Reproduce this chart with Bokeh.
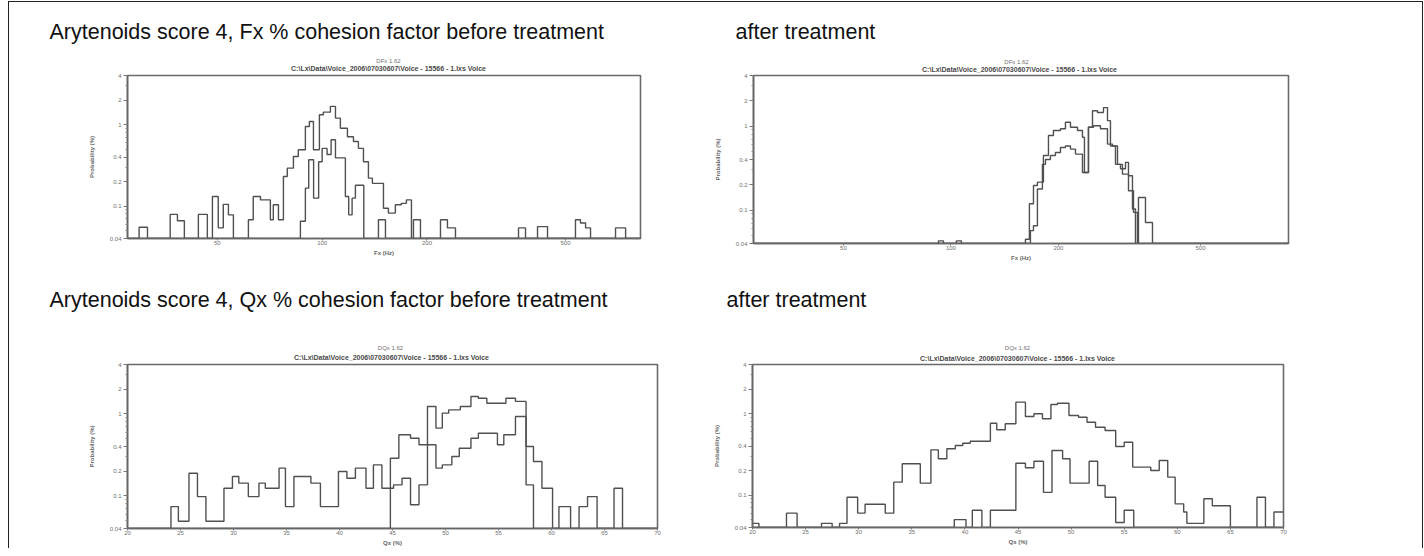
from bokeh.plotting import figure
from bokeh.layouts import column, row
from bokeh.models import Range1d, FixedTicker, CustomJSTickFormatter
from bokeh.embed import file_html
from bokeh.resources import INLINE
from bokeh.core.properties import value

# ---------------- data ----------------
# Panel 1: Fx before treatment (Hz, log axis) - probability %
fx_before_a_edges = [27.6, 29.8, 31.5, 36.6, 38.4, 40.2, 44.1, 46.8, 48.4, 50.3, 52.0, 53.8, 55.6, 61.4,
                     63.4, 66.5, 71.0, 72.4, 74.9, 77.4, 79.4, 82.7, 85.4, 89.5, 91.9, 94.4, 98.2, 100.8,
                     105.6, 109.2, 112.8, 118.2, 123.0, 127.1, 131.4, 135.8, 139.4, 150.0, 155.0, 162.3,
                     168.9, 174.6, 180.5, 182.9, 191.6, 218.7, 229.0, 241.5, 366.4, 383.8, 415.5, 443.9,
                     534, 552, 571, 590, 696, 744, 821]
fx_before_a_pct = [0.04, 0.055, 0.04, 0.079, 0.066, 0.04, 0.079, 0.04, 0.131, 0.054, 0.105, 0.078, 0.04,
                   0.068, 0.131, 0.119, 0.068, 0.104, 0.068, 0.231, 0.292, 0.406, 0.49, 0.947, 1.09, 0.49,
                   1.32, 1.42, 1.67, 1.20, 0.90, 0.71, 0.62, 0.51, 0.35, 0.22, 0.19, 0.094, 0.082, 0.104,
                   0.108, 0.119, 0.04, 0.068, 0.04, 0.068, 0.054, 0.04, 0.054, 0.04, 0.056, 0.04, 0.068,
                   0.062, 0.054, 0.04, 0.054, 0.04]
fx_before_b_edges = [27.6, 86.6, 89.5, 91.5, 94.5, 97.7, 100.0, 103.3, 106.1, 109.2, 116.6, 119.2, 121.9,
                     124.6, 131.7, 145.1, 152.0, 821]
fx_before_b_pct = [0.04, 0.065, 0.166, 0.37, 0.125, 0.35, 0.51, 0.43, 0.65, 0.39, 0.131, 0.078, 0.125,
                   0.18, 0.04, 0.068, 0.04]

# Panel 2: Fx after treatment
fx_after_a_edges = [28.0, 92.3, 95.3, 103.6, 107.0, 161.7, 165.9, 170.3, 174.7, 181.6, 187.6, 193.7, 202.7,
                    209.3, 216.2, 226.2, 233.6, 236.6, 242.8, 249.2, 257.3, 267.5, 274.5, 279.8, 289.0,
                    298.5, 308.3, 314.3, 322.5, 328.8, 335.2, 350.7, 366.9, 882]
fx_after_a_pct = [0.04, 0.043, 0.04, 0.043, 0.04, 0.045, 0.119, 0.196, 0.215, 0.446, 0.772, 0.886, 0.93,
                  1.11, 0.97, 0.886, 0.737, 0.28, 0.97, 1.52, 1.45, 1.66, 1.16, 0.58, 0.35, 0.31, 0.37,
                  0.256, 0.103, 0.04, 0.141, 0.071, 0.04]
fx_after_b_edges = [28.0, 167.0, 170.3, 174.7, 180.4, 184.0, 190.0, 196.2, 202.7, 209.3, 216.2, 223.3,
                    233.6, 242.8, 250.8, 262.3, 274.5, 283.5, 292.8, 302.3, 314.3, 324.6, 333.0, 882]
fx_after_b_pct = [0.04, 0.057, 0.065, 0.178, 0.35, 0.40, 0.446, 0.485, 0.556, 0.58, 0.532, 0.464, 0.28,
                  0.97, 1.01, 0.93, 0.61, 0.58, 0.35, 0.268, 0.17, 0.094, 0.04]

# Panel 3: Qx before treatment (%)
qx_before_a_edges = [20.0, 24.1, 24.8, 25.8, 26.6, 27.4, 29.1, 29.9, 30.5, 31.4, 32.4, 33.0, 34.3, 34.9,
                     35.7, 37.3, 38.2, 39.9, 40.7, 41.5, 42.5, 43.2, 44.0, 45.1, 45.9, 46.7, 47.5, 48.3,
                     49.1, 49.7, 50.3, 51.4, 52.4, 53.1, 53.9, 55.7, 56.6, 57.6, 58.3, 70.0]
qx_before_a_pct = [0.04, 0.074, 0.049, 0.189, 0.098, 0.049, 0.124, 0.172, 0.143, 0.098, 0.143, 0.124,
                   0.218, 0.074, 0.172, 0.143, 0.074, 0.198, 0.164, 0.218, 0.124, 0.239, 0.124, 0.136,
                   0.164, 0.078, 0.136, 1.23, 0.67, 1.02, 1.12, 1.23, 1.63, 1.55, 1.35, 1.55, 1.42,
                   0.136, 0.04]
qx_before_b_edges = [20.0, 44.8, 45.6, 46.7, 47.5, 49.1, 49.7, 50.6, 51.3, 52.4, 53.1, 54.9, 55.5, 56.6,
                     57.6, 58.3, 59.1, 60.1, 60.7, 61.8, 62.6, 63.4, 64.3, 65.9, 66.7, 70.0]
qx_before_b_pct = [0.04, 0.288, 0.556, 0.505, 0.42, 0.218, 0.239, 0.302, 0.381, 0.505, 0.581, 0.42,
                   0.556, 0.929, 0.4, 0.262, 0.124, 0.04, 0.074, 0.04, 0.074, 0.098, 0.04, 0.124, 0.04]

# Panel 4: Qx after treatment (%)
qx_after_a_edges = [20.0, 20.6, 23.2, 24.2, 26.5, 27.5, 28.2, 28.9, 29.9, 30.6, 32.5, 33.3, 34.1, 35.8,
                    36.8, 37.5, 38.3, 39.1, 39.8, 40.5, 42.4, 43.0, 43.8, 44.8, 45.7, 46.5, 47.3, 48.1,
                    48.7, 49.8, 50.7, 51.5, 52.3, 53.2, 54.2, 55.0, 55.8, 57.5, 58.3, 59.1, 59.8, 60.6,
                    60.9, 62.5, 63.3, 65.0, 67.5, 68.3, 69.1, 70.0]
qx_after_a_pct = [0.045, 0.04, 0.060, 0.04, 0.045, 0.04, 0.045, 0.094, 0.060, 0.077, 0.060, 0.144, 0.242,
                  0.140, 0.359, 0.279, 0.37, 0.406, 0.433, 0.458, 0.762, 0.632, 0.749, 1.38, 0.92, 0.994,
                  0.862, 1.29, 1.34, 0.947, 0.902, 0.784, 0.68, 0.62, 0.394, 0.445, 0.22, 0.20, 0.266,
                  0.166, 0.078, 0.062, 0.045, 0.09, 0.074, 0.04, 0.094, 0.04, 0.062]
qx_after_b_edges = [20.0, 39.0, 40.1, 40.7, 41.6, 42.4, 44.8, 45.7, 46.5, 47.4, 48.2, 49.2, 49.9, 51.7,
                    52.5, 53.2, 54.2, 55.0, 55.9, 70.0]
qx_after_b_pct = [0.04, 0.050, 0.04, 0.065, 0.04, 0.065, 0.246, 0.216, 0.26, 0.108, 0.352, 0.279, 0.140,
                  0.26, 0.131, 0.094, 0.046, 0.065, 0.04]

# axis ticks / labels
prob_ticks = [0.04, 0.1, 0.2, 0.4, 1, 2, 4]
prob_minor = [0.05, 0.06, 0.07, 0.08, 0.09, 0.3, 0.5, 0.6, 0.7, 0.8, 0.9, 3]
fx_ticks = [50, 100, 200, 500]
fx_minor = [30, 40, 60, 70, 80, 90, 300, 400, 600, 700, 800]
qx_ticks = [20, 25, 30, 35, 40, 45, 50, 55, 60, 65, 70]

heading_fx = "Arytenoids score 4, Fx % cohesion factor before treatment"
heading_qx = "Arytenoids score 4, Qx % cohesion factor before treatment"
heading_after = "after treatment"
title_fx = "DFx 1.62"
title_qx = "DQx 1.62"
path_text = "C:\\Lx\\Data\\Voice_2006\\07030607\\Voice - 15566 - 1.lxs  Voice"

FONT = "Liberation Sans"
GREY = "#707070"
LINE = "#505050"


def panel(xtype, xr, series, fw, fh, mbl, mbr, mbt, mbb, xticks, xminor, xlabel):
    p = figure(x_axis_type=xtype, y_axis_type="log", x_range=Range1d(*xr), y_range=Range1d(0.04, 4),
               frame_width=fw, frame_height=fh, min_border_left=mbl, min_border_right=mbr,
               min_border_top=mbt, min_border_bottom=mbb, toolbar_location=None,
               output_backend="svg", title=None)
    p.grid.visible = False
    p.outline_line_color = "#6a6a6a"
    p.outline_line_width = 1.6
    for edges, pct in series:
        p.step(x=edges, y=list(pct) + [pct[-1]], mode="after", line_color=LINE, line_width=1.4)
    p.yaxis.ticker = FixedTicker(ticks=prob_ticks, minor_ticks=prob_minor)
    p.xaxis.ticker = FixedTicker(ticks=xticks, minor_ticks=xminor)
    fmt = "return String(tick);"
    p.xaxis.formatter = CustomJSTickFormatter(code=fmt)
    p.yaxis.formatter = CustomJSTickFormatter(code=fmt)
    p.yaxis.axis_label = "Probability (%)"
    p.xaxis.axis_label = xlabel
    for ax in (p.xaxis[0], p.yaxis[0]):
        ax.axis_line_color = "#666666"
        ax.axis_line_width = 1.6
        ax.major_tick_line_color = "#777777"
        ax.minor_tick_line_color = "#888888"
        ax.major_tick_out = 4
        ax.major_tick_in = 0
        ax.minor_tick_out = 2
        ax.minor_tick_in = 0
        ax.major_label_text_font = FONT
        ax.major_label_text_font_size = "6px"
        ax.major_label_text_color = GREY
        ax.major_label_standoff = 2
        ax.axis_label_text_font = FONT
        ax.axis_label_text_font_size = "6px"
        ax.axis_label_text_font_style = "bold"
        ax.axis_label_text_color = "#666666"
    p.yaxis.axis_label_standoff = 12
    p.xaxis.major_tick_out = 2
    p.xaxis.minor_tick_out = 1
    p.xaxis.major_label_standoff = 0
    p.xaxis.axis_label_standoff = 2
    return p


def header(w, h, texts):
    p = figure(frame_width=w, frame_height=h, x_range=Range1d(0, w), y_range=Range1d(h, 0),
               x_axis_type=None, y_axis_type=None, min_border=0, toolbar_location=None,
               output_backend="svg", title=None)
    p.outline_line_color = None
    for x, y, txt, size, align, color, style in texts:
        p.text(x=[x], y=[y], text=[txt], text_font=value(FONT), text_font_size=size,
               text_align=align, text_baseline="middle", text_color=color, text_font_style=style)
    return p


hdr_a = header(1400, 71, [
    (40, 29, heading_fx, "21.5px", "left", "#111111", "normal"),
    (726, 29, heading_after, "21.5px", "left", "#111111", "normal"),
    (379, 58, title_fx, "6px", "center", GREY, "normal"),
    (380, 66, path_text, "7px", "center", "#4a4a4a", "bold"),
    (1007, 59, title_fx, "6px", "center", GREY, "normal"),
    (1011, 67, path_text, "7px", "center", "#4a4a4a", "bold"),
])

hdr_c = header(1400, 92, [
    (40, 29, heading_qx, "21.5px", "left", "#111111", "normal"),
    (717, 29, heading_after, "21.5px", "left", "#111111", "normal"),
    (381, 77, title_qx, "6px", "center", GREY, "normal"),
    (383, 87, path_text, "7px", "center", "#4a4a4a", "bold"),
    (1008, 77, title_qx, "6px", "center", GREY, "normal"),
    (1009, 88, path_text, "7px", "center", "#4a4a4a", "bold"),
])

p1 = panel("log", (27.6, 821), [(fx_before_a_edges, fx_before_a_pct), (fx_before_b_edges, fx_before_b_pct)],
           513, 163, 118, 50, 1, 33, fx_ticks, fx_minor, "Fx (Hz)")
p2 = panel("log", (28.0, 882), [(fx_after_a_edges, fx_after_a_pct), (fx_after_b_edges, fx_after_b_pct)],
           535, 168, 63, 10, 2, 27, fx_ticks, fx_minor, "Fx (Hz)")
p3 = panel("linear", (20, 70), [(qx_before_a_edges, qx_before_a_pct), (qx_before_b_edges, qx_before_b_pct)],
           530, 164, 118, 33, 1, 21, qx_ticks, [], "Qx (%)")
p4 = panel("linear", (20, 70), [(qx_after_a_edges, qx_after_a_pct), (qx_after_b_edges, qx_after_b_pct)],
           531, 163, 62, 10, 2, 21, qx_ticks, [], "Qx (%)")

layout = column(hdr_a, row(p1, p2), hdr_c, row(p3, p4), width=1415, margin=(1, 0, 0, 8),
                styles={"border-left": "1px solid #222", "border-top": "1px solid #222",
                        "border-right": "1px solid #222"})

open("out.html", "w").write(file_html(layout, INLINE))
